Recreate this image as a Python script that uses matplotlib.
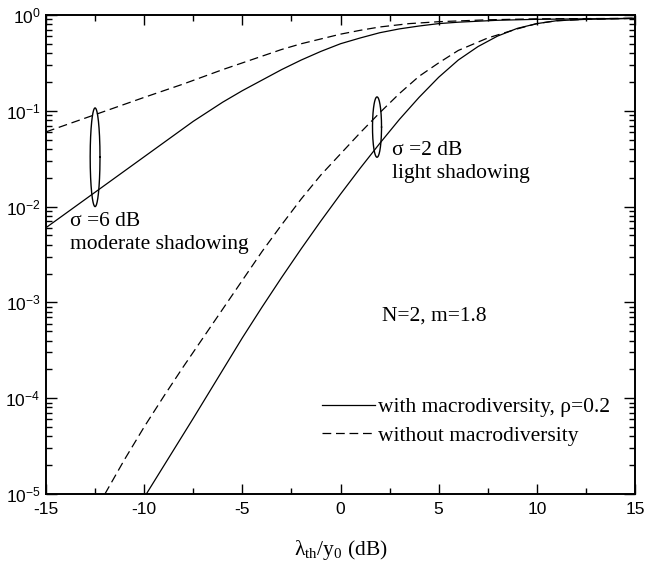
import numpy as np
import matplotlib
matplotlib.use("Agg")
import matplotlib.pyplot as plt
from matplotlib.ticker import FixedLocator, LogLocator, NullFormatter, FuncFormatter

plt.rcParams['mathtext.fontset'] = 'custom'
plt.rcParams['mathtext.rm'] = 'Liberation Serif'
plt.rcParams['mathtext.it'] = 'Liberation Serif:italic'
plt.rcParams['mathtext.sf'] = 'Liberation Sans'
plt.rcParams['font.family'] = ['Liberation Serif', 'DejaVu Serif']

# ---- data: x in dB, y as log10 of outage probability ----
x_s6_with = [-15, -12.5, -10, -7.5, -6, -5, -4, -3, -2, -1, 0, 1, 2, 3, 4, 5, 6, 8, 10, 12.5, 15]
y_s6_with = [-2.22, -1.85, -1.48, -1.11, -0.91, -0.79, -0.68, -0.57, -0.47, -0.38, -0.30,
             -0.24, -0.185, -0.145, -0.115, -0.09, -0.075, -0.055, -0.045, -0.04, -0.035]
x_s6_without = [-15, -12.5, -10, -8, -6, -5, -4, -3, -2, -1, 0, 1, 2, 3.5, 5, 7.5, 10, 15]
y_s6_without = [-1.22, -1.04, -0.86, -0.72, -0.57, -0.50, -0.43, -0.36, -0.30, -0.25, -0.20,
                -0.16, -0.125, -0.09, -0.07, -0.05, -0.04, -0.035]
x_s2_with = [-9.86, -7.5, -5, -4, -3, -2, -1, 0, 1, 2, 3, 4, 5, 6, 7, 8, 9, 10, 11, 12.5, 15]
y_s2_with = [-4.99, -4.21, -3.37, -3.05, -2.74, -2.44, -2.15, -1.87, -1.60, -1.34, -1.09,
             -0.86, -0.65, -0.47, -0.33, -0.22, -0.14, -0.09, -0.06, -0.045, -0.035]
x_s2_without = [-12, -11, -10, -9, -8, -7, -6, -5, -4, -3, -2, -1, 0, 1, 2, 3, 4, 5, 6,
                7.5, 9, 10, 11, 12.5, 15]
y_s2_without = [-5.0, -4.64, -4.30, -3.98, -3.67, -3.37, -3.07, -2.77, -2.47, -2.19, -1.92,
                -1.67, -1.45, -1.23, -1.02, -0.82, -0.64, -0.50, -0.37, -0.24, -0.145,
                -0.09, -0.06, -0.045, -0.035]

legend_labels = ['with macrodiversity, \u03c1=0.2', 'without macrodiversity']
x_ticks = [-15, -10, -5, 0, 5, 10, 15]

fig = plt.figure(figsize=(6.45, 5.63), dpi=100)
ax = fig.add_axes([46/645, 1-494/563, (635-46)/645, (494-15)/563])

lw = 0.9
dash = (0, (7, 3.8))
def P(v):
    return 10**np.asarray(v, float)

ax.plot(x_s6_with, P(y_s6_with), 'k-', lw=lw, label=legend_labels[0])
ax.plot(x_s6_without, P(y_s6_without), 'k', ls=dash, lw=lw, label=legend_labels[1])
ax.plot(x_s2_with, P(y_s2_with), 'k-', lw=lw)
ax.plot(x_s2_without, P(y_s2_without), 'k', ls=dash, lw=lw)

# ellipses marking the curve pairs (in log space)
t = np.linspace(0, 2*np.pi, 200)
def ell(cx, cy, a, b):
    ax.plot(cx + a*np.cos(t), 10**(cy + b*np.sin(t)), 'k-', lw=1.0)
ell(-12.5, -1.485, 0.25, 0.515)
ell(1.86, -1.17, 0.23, 0.315)

ax.set_yscale('log')
ax.set_xlim(-15, 15)
ax.set_ylim(1e-5, 1)
ax.xaxis.set_major_locator(FixedLocator(x_ticks))
ax.xaxis.set_minor_locator(FixedLocator(np.arange(-12.5, 15, 5)))
ax.yaxis.set_major_locator(LogLocator(base=10, numticks=10))
ax.yaxis.set_minor_locator(LogLocator(base=10, subs=np.arange(2, 10), numticks=10))
ax.yaxis.set_minor_formatter(NullFormatter())
ax.yaxis.set_major_formatter(FuncFormatter(lambda v, p: r'$\mathsf{10^{%d}}$' % int(round(np.log10(v)))))
ax.xaxis.set_major_formatter(FuncFormatter(lambda v, p: '%d' % v))
ax.tick_params(which='both', direction='in', top=True, right=True, width=1.0)
ax.tick_params(which='major', length=7)
ax.tick_params(which='minor', length=4)
ax.tick_params(axis='y', which='major', length=8)
for lab in ax.get_xticklabels() + ax.get_yticklabels():
    lab.set_fontfamily('Liberation Sans')
    lab.set_fontsize(12.5)
ax.tick_params(axis='x', pad=6)
ax.tick_params(axis='y', pad=4)
for s in ax.spines.values():
    s.set_linewidth(1.4)

fs = 15.5
ax.set_xlabel(r'$\mathrm{\lambda_{th}/y_0}$ (dB)', fontsize=fs, labelpad=15)

ax.text(-13.78, 10**-2.16, '\u03c3 =6 dB', fontsize=fs, va='center', ha='left')
ax.text(-13.78, 10**-2.40, 'moderate shadowing', fontsize=fs, va='center', ha='left')
ax.text(2.63, 10**-1.41, '\u03c3 =2 dB', fontsize=fs, va='center', ha='left')
ax.text(2.63, 10**-1.65, 'light shadowing', fontsize=fs, va='center', ha='left')
ax.text(2.12, 10**-3.14, 'N=2, m=1.8', fontsize=fs, va='center', ha='left')

ax.legend(loc='center left', bbox_to_anchor=((322-46)/589, (494-421.5)/479), frameon=False,
          fontsize=fs, handlelength=2.45, handletextpad=0.15, labelspacing=0.38,
          borderpad=0, borderaxespad=0)

fig.savefig('out.png', dpi=100)
